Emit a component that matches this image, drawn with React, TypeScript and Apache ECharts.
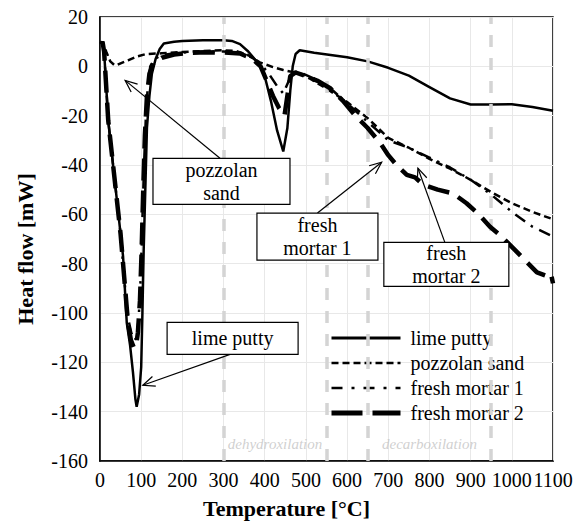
import React, { useEffect, useRef } from "react";
import * as echarts from "echarts";

const seriesNames = ["lime putty", "pozzolan sand", "fresh mortar 1", "fresh mortar 2"];

const limePutty: number[][] = [
  [5, 10], [10, 6], [20, -22], [35, -45], [50, -68], [56, -77], [65, -104], [73, -113], [80, -124], [86, -135], [89, -138],
  [95, -133], [100, -122], [103, -100], [106, -75], [110, -50], [114, -25], [120, -12], [126, -3], [135, 3], [145, 7],
  [155, 9.3], [180, 10], [200, 10.3], [250, 10.6], [300, 10.6], [320, 10.3], [340, 9], [360, 6], [380, 2], [390, 0],
  [400, -4], [415, -14], [430, -26], [445, -34.5], [455, -25], [462, -10], [468, 0], [475, 5], [485, 6.5], [520, 5.5],
  [560, 4.6], [600, 3.7], [650, 2], [700, -0.6], [750, -3.8], [800, -8.4], [850, -13], [900, -15.5], [950, -15.5],
  [1000, -15.4], [1050, -16.5], [1100, -18],
];

const pozzolanSand: number[][] = [
  [3, 9], [6, 10], [15, 6], [25, 2], [35, 0.5], [40, 0.4], [50, 1.2], [68, 2.4], [90, 4], [110, 4.9], [150, 5.3],
  [200, 5.8], [250, 6.2], [300, 6.5], [330, 6.2], [360, 4.5], [388, 1.6], [420, -0.3], [445, -1.5], [485, -2.9],
  [510, -5], [550, -9], [600, -14.5], [650, -21], [700, -29], [750, -33], [800, -37.5], [850, -41.5], [900, -46],
  [950, -51], [1000, -55.5], [1050, -59], [1100, -62],
];

const freshMortar1: number[][] = [
  [3, 9], [6, 10], [10, 6], [20, -22], [35, -45], [50, -68], [60, -88], [68, -102], [76, -108], [84, -111], [89, -110],
  [94, -102], [99, -85], [103, -62], [107, -40], [111, -22], [116, -8], [122, 0], [132, 3], [150, 4.5], [180, 5.3],
  [220, 5.8], [260, 6], [300, 6], [340, 5.5], [370, 3.5], [390, 1], [410, -3], [430, -8], [445, -11], [458, -6],
  [470, -2], [490, -2.8], [520, -5], [560, -9], [600, -15], [640, -21], [680, -27], [700, -30], [750, -33], [800, -37],
  [850, -41], [900, -46], [950, -52], [1000, -59], [1050, -65], [1100, -69],
];

const freshMortar2: number[][] = [
  [3, 9], [6, 10], [10, 6], [20, -22], [35, -45], [50, -68], [60, -88], [68, -104], [75, -111], [82, -114], [87, -114],
  [92, -108], [97, -95], [101, -75], [105, -50], [109, -28], [114, -12], [120, -3], [130, 1.5], [150, 3.5], [180, 4.8],
  [220, 5.5], [260, 5.7], [300, 5.6], [340, 5.2], [370, 3], [390, 0], [405, -6], [420, -12], [435, -17], [448, -20],
  [455, -12], [462, -4], [475, -2.5], [500, -4], [530, -6], [560, -9], [590, -14], [620, -20], [650, -25], [680, -31],
  [700, -36], [720, -40], [745, -44], [765, -45], [785, -48], [820, -50], [857, -51.5], [890, -55.5], [920, -60],
  [947, -65], [975, -69], [1005, -74], [1032, -78.6], [1061, -83.5], [1085, -85], [1095, -84], [1100, -88],
];

const phaseBounds = [300, 550, 650, 950];
const phaseLabels = ["dehydroxilation", "decarboxilation"];
const phaseLabelPos: number[][] = [[425, -153], [800, -153]];

const xTicks = { min: 0, max: 1100, interval: 100 };
const yTicks = { min: -160, max: 20, interval: 20 };

const annotations = [
  { text: "pozzolan\nsand", box: [295, -46.6], size: [137, 46], tailSide: "top", tailDx: -1.5, tip: [61, -5.7] },
  { text: "fresh\nmortar 1", box: [528, -69], size: [121, 47], tailSide: "top", tailDx: 0, tip: [684, -38.9] },
  { text: "fresh\nmortar 2", box: [841, -80.3], size: [125, 44], tailSide: "top", tailDx: -1.5, tip: [772, -41.3] },
  { text: "lime putty", box: [322, -110.3], size: [131, 32], tailSide: "bottom", tailDx: -2.5, tip: [104, -129.3] },
];

const SERIF = "Liberation Serif, DejaVu Serif, Times New Roman, serif";

export default function App() {
  const ref = useRef<HTMLDivElement>(null);
  useEffect(() => {
    if (!ref.current) return;
    const chart = echarts.init(ref.current, undefined, { renderer: "svg" });
    const styles: any[] = [
      { type: "solid", width: 2.5, legendWidth: 3 },
      { type: [7, 4], width: 2.5, legendWidth: 2.5 },
      { type: [12, 7, 2.5, 7], width: 2.5, legendWidth: 2.5 },
      { type: [22, 10], width: 4.5, legendWidth: 5 },
    ];
    const legendTypes: any[] = ["solid", [7, 4], [11, 9, 3, 9], [31, 10]];
    const datas = [limePutty, pozzolanSand, freshMortar1, freshMortar2];
    const option: any = {
      animation: false,
      grid: { left: 100, right: 32, top: 17, bottom: 64, show: true, borderColor: "#000", borderWidth: 1.5, backgroundColor: "transparent" },
      legend: {
        data: seriesNames.map((name, i) => ({
          name,
          itemStyle: { opacity: 0 },
          lineStyle: { color: "#000", width: styles[i].legendWidth, type: legendTypes[i] },
        })),
        orient: "vertical",
        left: 324,
        top: 323,
        itemWidth: 69,
        itemHeight: 20,
        itemGap: 5,
        itemStyle: { opacity: 0 },
        textStyle: { fontFamily: SERIF, fontSize: 20, color: "#000", padding: [0, 0, 0, 5] },
      },
      xAxis: {
        type: "value",
        min: xTicks.min,
        max: xTicks.max,
        interval: xTicks.interval,
        name: "Temperature [°C]",
        nameLocation: "middle",
        nameGap: 36,
        nameTextStyle: { fontFamily: SERIF, fontSize: 22, fontWeight: "bold", color: "#000", padding: [0, 80, 0, 0] },
        axisLine: { show: true, onZero: false, lineStyle: { color: "#000", width: 1.5 } },
        axisTick: { show: false },
        axisLabel: { fontFamily: SERIF, fontSize: 20, color: "#000", margin: 9, formatter: (v: number) => String(v) },
        splitLine: { show: true, lineStyle: { color: "#e8e8e8", width: 1 } },
      },
      yAxis: {
        type: "value",
        min: yTicks.min,
        max: yTicks.max,
        interval: yTicks.interval,
        name: "Heat flow [mW]",
        nameLocation: "middle",
        nameGap: 64,
        nameRotate: 90,
        nameTextStyle: { fontFamily: SERIF, fontSize: 22, fontWeight: "bold", color: "#000", padding: [0, 20, 0, 0] },
        axisLine: { show: true, onZero: false, lineStyle: { color: "#000", width: 1.5 } },
        axisTick: { show: false },
        axisLabel: { fontFamily: SERIF, fontSize: 20, color: "#000", margin: 12, formatter: (v: number) => String(v) },
        splitLine: { show: true, lineStyle: { color: "#e8e8e8", width: 1 } },
      },
      series: [
        {
          name: "phases",
          type: "line",
          data: [],
          z: 1,
          silent: true,
          markLine: {
            silent: true,
            symbol: ["none", "none"],
            label: { show: false },
            lineStyle: { color: "#d4d4d4", type: [12, 11], width: 3.5 },
            data: phaseBounds.map((x) => ({ xAxis: x })),
          },
        },
        {
          name: "phaseLabels",
          type: "scatter",
          symbolSize: 0,
          silent: true,
          z: 1,
          data: phaseLabelPos.map((p, i) => [p[0], p[1], phaseLabels[i]]),
          label: {
            show: true,
            position: "inside",
            formatter: (p: any) => p.value[2],
            fontFamily: SERIF,
            fontStyle: "italic",
            fontSize: 15,
            color: "#c4c4c4",
          },
        },
        ...seriesNames.map((name, i) => ({
          name,
          type: "line",
          data: datas[i],
          showSymbol: false,
          symbol: "none",
          smooth: false,
          z: 3 + i,
          lineStyle: { color: "#000", type: styles[i].type, width: styles[i].width },
          itemStyle: { color: "#000" },
        })),
      ],
    };
    chart.setOption(option);

    const graphics: any[] = [];
    annotations.forEach((a) => {
      const c = chart.convertToPixel({ gridIndex: 0 }, a.box) as number[];
      const tip = chart.convertToPixel({ gridIndex: 0 }, a.tip) as number[];
      const [w, h] = a.size;
      const x0 = c[0] - w / 2;
      const y0 = c[1] - h / 2;
      const tail = [c[0] + a.tailDx, a.tailSide === "top" ? y0 : y0 + h];
      const ang = Math.atan2(tail[1] - tip[1], tail[0] - tip[0]);
      const len = 13;
      const spread = 0.4;
      const p1 = [tip[0] + len * Math.cos(ang + spread), tip[1] + len * Math.sin(ang + spread)];
      const p2 = [tip[0] + len * Math.cos(ang - spread), tip[1] + len * Math.sin(ang - spread)];
      graphics.push({
        type: "line",
        z: 100,
        shape: { x1: tail[0], y1: tail[1], x2: tip[0], y2: tip[1] },
        style: { stroke: "#000", lineWidth: 1.2 },
      });
      graphics.push({
        type: "polyline",
        z: 100,
        shape: { points: [p1, tip, p2] },
        style: { stroke: "#000", lineWidth: 1.2, fill: "none" },
      });
      graphics.push({
        type: "rect",
        z: 101,
        shape: { x: x0, y: y0, width: w, height: h },
        style: { fill: "#fff", stroke: "#000", lineWidth: 1.2 },
      });
      graphics.push({
        type: "text",
        z: 102,
        x: c[0],
        y: c[1],
        style: {
          text: a.text,
          align: "center",
          verticalAlign: "middle",
          fontFamily: SERIF,
          fontSize: 20,
          lineHeight: 23,
          fill: "#000",
        },
      });
    });
    chart.setOption({ graphic: graphics });

    return () => chart.dispose();
  }, []);
  return <div ref={ref} style={{ width: 585, height: 525, position: "absolute", left: 0, top: 0, background: "#fff" }} />;
}
